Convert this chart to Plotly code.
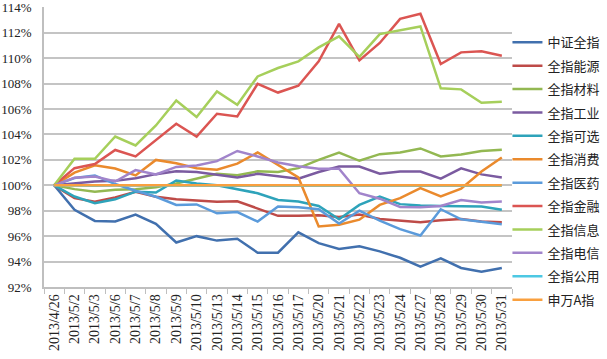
import plotly.graph_objects as go

dates = ["2013/4/26", "2013/5/2", "2013/5/3", "2013/5/6", "2013/5/7", "2013/5/8",
         "2013/5/9", "2013/5/10", "2013/5/13", "2013/5/14", "2013/5/15", "2013/5/16",
         "2013/5/17", "2013/5/20", "2013/5/21", "2013/5/22", "2013/5/23", "2013/5/24",
         "2013/5/27", "2013/5/28", "2013/5/29", "2013/5/30", "2013/5/31"]

zz_all = [100, 98.07, 97.2, 97.15, 97.7, 96.97, 95.5, 96.0, 95.65, 95.8, 94.7, 94.7,
          96.3, 95.45, 95.0, 95.2, 94.8, 94.3, 93.6, 94.25, 93.5, 93.2, 93.5]
energy = [100, 98.99, 98.7, 99.05, 99.5, 99.1, 98.9, 98.8, 98.7, 98.75, 98.2, 97.6,
          97.6, 97.65, 97.5, 97.7, 97.35, 97.25, 97.1, 97.25, 97.35, 97.15, 97.1]
materials = [100, 99.7, 99.5, 99.65, 99.7, 99.85, 100.15, 100.5, 100.9, 100.8, 101.1, 101.05,
             101.35, 102.0, 102.58, 101.93, 102.45, 102.58, 102.9, 102.27, 102.43, 102.7, 102.8]
industry = [100, 100.17, 100.3, 100.35, 100.55, 100.88, 101.1, 101.04, 100.83, 100.62, 100.9, 100.7,
            100.52, 101.05, 101.48, 101.48, 100.92, 101.09, 101.09, 100.52, 101.33, 100.86, 100.62]
discretionary = [100, 99.12, 98.6, 98.9, 99.5, 99.43, 100.38, 100.15, 100.0, 99.7, 99.38, 98.85,
                 98.72, 98.38, 97.33, 98.46, 99.12, 98.52, 98.41, 98.38, 98.35, 98.33, 98.07]
staples = [100, 101.0, 101.58, 101.32, 100.78, 102.0, 101.74, 101.35, 101.22, 101.7, 102.58, 101.61,
           100.62, 96.76, 96.9, 97.3, 98.46, 98.99, 99.78, 99.12, 99.74, 101.09, 102.19]
health = [100, 100.57, 100.78, 100.1, 99.57, 99.1, 98.46, 98.5, 97.8, 97.9, 97.15, 98.33,
          98.28, 98.12, 97.0, 98.0, 97.23, 96.55, 96.05, 98.12, 97.33, 97.15, 96.94]
financials = [100, 101.35, 101.67, 102.78, 102.27, 103.53, 104.84, 103.84, 105.63, 105.42, 107.99, 107.3,
              107.83, 109.75, 112.7, 109.83, 111.2, 113.1, 113.5, 109.54, 110.46, 110.54, 110.2]
infotech = [100, 102.09, 102.09, 103.84, 103.14, 104.71, 106.68, 105.37, 107.38, 106.34, 108.57, 109.23,
            109.75, 110.85, 111.72, 110.1, 111.9, 112.19, 112.5, 107.63, 107.55, 106.5, 106.58]
telecom = [100, 100.6, 100.7, 100.3, 101.2, 100.85, 101.45, 101.56, 101.9, 102.7, 102.27, 101.8,
           101.5, 101.3, 101.3, 99.38, 98.95, 98.3, 98.28, 98.38, 98.85, 98.65, 98.72]
utilities = [100, 99.97, 99.96, 99.98, 99.97, 99.96, 99.97, 99.98, 99.97, 99.96, 99.97, 99.96,
             99.97, 99.96, 99.95, 99.97, 99.96, 99.97, 99.96, 99.97, 99.96, 99.97, 99.96]
sw_a = [100, 100, 100, 100, 100, 100, 100, 100, 100, 100, 100, 100,
        100, 100, 100, 100, 100, 100, 100, 100, 100, 100, 100]

series_names = ["中证全指", "全指能源", "全指材料", "全指工业", "全指可选", "全指消费",
                "全指医药", "全指金融", "全指信息", "全指电信", "全指公用", "申万A指"]
series_values = [zz_all, energy, materials, industry, discretionary, staples,
                 health, financials, infotech, telecom, utilities, sw_a]
series_colors = ["#4170AE", "#BE4B48", "#93B852", "#7B5BA0", "#2EA3BA", "#EA8A2D",
                 "#5B9BDB", "#DB5552", "#A6CF5B", "#A184CB", "#4DC8E3", "#F9A03F"]

y_ticks = [92, 94, 96, 98, 100, 102, 104, 106, 108, 110, 112, 114]

fig = go.Figure()
for i, (name, vals, col) in enumerate(zip(series_names, series_values, series_colors)):
    fig.add_trace(go.Scatter(x=dates, y=vals, name=name, mode="lines",
                             line=dict(color=col, width=2.5),
                             legendgroup="g%d" % i))

fig.update_layout(
    width=607, height=359,
    margin=dict(l=44, r=95, t=7, b=72, autoexpand=False),
    paper_bgcolor="white", plot_bgcolor="white",
    showlegend=True,
    legend=dict(xref="container", yref="container", x=0.836, y=0.924,
                xanchor="left", yanchor="top", maxheight=359,
                font=dict(family="Noto Sans CJK SC", size=13, color="#222"),
                tracegroupgap=3.5, itemwidth=30, bgcolor="rgba(0,0,0,0)"),
    font=dict(family="Liberation Serif", size=13, color="#222"),
)
fig.update_xaxes(type="category", range=[-0.5, 22.5], tickangle=-90,
                 showgrid=False, showline=True, linecolor="#BFBFBF", linewidth=1.5,
                 ticks="outside", ticklen=5, tickcolor="#BFBFBF", tickson="boundaries",
                 tickfont=dict(family="Liberation Serif", size=14, color="#222"))
fig.update_yaxes(range=[92, 114.03], tickvals=y_ticks,
                 ticktext=["%d%%" % v for v in y_ticks],
                 showgrid=True, gridcolor="#C4C4C4", gridwidth=1.5,
                 showline=True, linecolor="#BFBFBF", linewidth=1.5,
                 ticks="", ticklabelstandoff=8, zeroline=False,
                 ticklabeloverflow="allow",
                 tickfont=dict(family="Liberation Serif", size=13, color="#222"))

fig.write_html("out.html", config={"displayModeBar": False},
               post_script="document.body.style.margin='0';")
